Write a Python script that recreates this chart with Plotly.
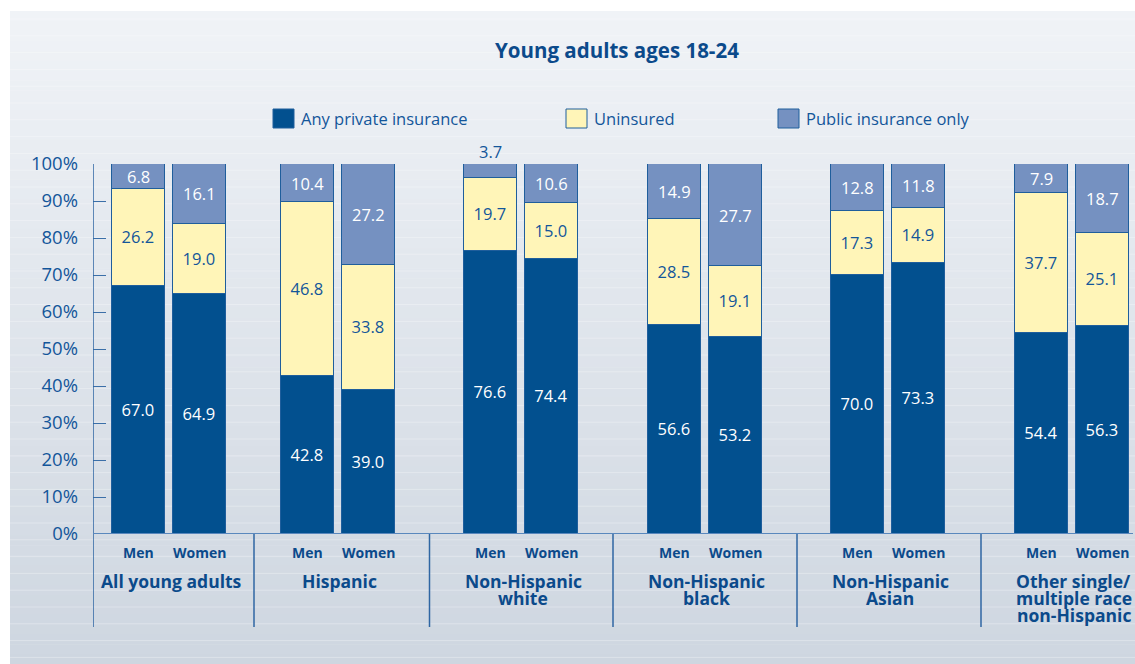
import plotly.graph_objects as go

W, H = 1135, 664

# ---- data -------------------------------------------------------------
groups = [
    "All young adults",
    "Hispanic",
    "Non-Hispanic\nwhite",
    "Non-Hispanic\nblack",
    "Non-Hispanic\nAsian",
    "Other single/\nmultiple race\nnon-Hispanic",
]
sexes = ["Men", "Women"]

private_men = [67.0, 42.8, 76.6, 56.6, 70.0, 54.4]
private_women = [64.9, 39.0, 74.4, 53.2, 73.3, 56.3]
uninsured_men = [26.2, 46.8, 19.7, 28.5, 17.3, 37.7]
uninsured_women = [19.0, 33.8, 15.0, 19.1, 14.9, 25.1]
public_men = [6.8, 10.4, 3.7, 14.9, 12.8, 7.9]
public_women = [16.1, 27.2, 10.6, 27.7, 11.8, 18.7]

y_ticks = [0, 10, 20, 30, 40, 50, 60, 70, 80, 90, 100]

series_names = ["Any private insurance", "Uninsured", "Public insurance only"]

# ---- styling ----------------------------------------------------------
C_PRIVATE = "#02508f"
C_UNINS = "#fff5b8"
C_PUBLIC = "#7591c1"
C_EDGE = "#1f5e9c"
C_TEXT = "#13569a"
C_TITLE = "#0b4a8b"
FONT = "Open Sans"
VALUE_SIZE = 16.5

# pixel layout of the plotting area
LEFT, RIGHT = 93, 1135
TOP, BOTTOM = 164, 534
LOWER = 627            # bottom of the category divider lines
PX_PER_PCT = (BOTTOM - TOP) / 100.0


def py(y_px):
    """pixel row -> paper coordinate"""
    return 1 - y_px / H


# group centres (x axis is measured in pixels)
first_centre, next_centre, step = 169, 337.5, 183.6
centres = [first_centre] + [next_centre + step * k for k in range(len(groups) - 1)]
half_gap = 30.5
bar_w = 53
dividers = [254, 429.5, 613, 797, 981]


def interleave(a, b):
    out = []
    for u, v in zip(a, b):
        out += [u, v]
    return out


xs = []
for c in centres:
    xs += [c - half_gap, c + half_gap]

private = interleave(private_men, private_women)
unins = interleave(uninsured_men, uninsured_women)
public = interleave(public_men, public_women)

fig = go.Figure()


def add_series(vals, name, fill, label_col=None):
    kw = {}
    if label_col:
        kw = dict(
            text=[f"{v:.1f}" for v in vals], textposition="inside",
            insidetextanchor="middle", textangle=0, constraintext="none",
            insidetextfont=dict(family=FONT, size=VALUE_SIZE, color=label_col),
        )
    fig.add_trace(go.Bar(
        x=xs, y=vals, width=bar_w, name=name,
        marker=dict(color=fill, line=dict(color=C_EDGE, width=1.3)),
        cliponaxis=False, hoverinfo="skip", showlegend=False, **kw,
    ))


add_series(private, series_names[0], C_PRIVATE, "white")
add_series(unins, series_names[1], C_UNINS, C_TEXT)
add_series(public, series_names[2], C_PUBLIC)

annotations = []

# labels for the top segment: centred inside, or above the bar when too thin
for x, p, u, v in zip(xs, private, unins, public):
    base = p + u
    if v * PX_PER_PCT >= 18:
        annotations.append(dict(
            text=f"{v:.1f}", xref="x", yref="y", x=x, y=base + v / 2,
            xanchor="center", yanchor="middle", showarrow=False,
            font=dict(family=FONT, size=VALUE_SIZE, color="white"),
        ))
    else:
        annotations.append(dict(
            text=f"{v:.1f}", xref="x", yref="y", x=x, y=base + v,
            xanchor="center", yanchor="bottom", showarrow=False, yshift=-1,
            font=dict(family=FONT, size=VALUE_SIZE, color=C_TEXT),
        ))

shapes = []

# background panel: vertical gradient with faint horizontal stripes
top_rgb = (0xF0, 0xF3, 0xF7)
bot_rgb = (0xCE, 0xD6, 0xE0)
y0_bg = 11
n_bands = 66
band_h = (H - y0_bg) / n_bands
for i in range(n_bands):
    t = (i + 0.5) / n_bands
    col = tuple(round(a + (b - a) * t) for a, b in zip(top_rgb, bot_rgb))
    shapes.append(dict(
        type="rect", xref="paper", yref="paper", layer="below",
        x0=10 / W, x1=1, y0=py(y0_bg + i * band_h), y1=py(y0_bg + (i + 1) * band_h + 0.6),
        fillcolor="rgb(%d,%d,%d)" % col, line=dict(width=0),
    ))
stripe_y = y0_bg + 8
while stripe_y < H:
    shapes.append(dict(
        type="line", xref="paper", yref="paper", layer="below",
        x0=10 / W, x1=1, y0=py(stripe_y), y1=py(stripe_y),
        line=dict(color="rgba(255,255,255,0.3)", width=1),
    ))
    stripe_y += 16.8

# y axis line (extended down through the category area)
shapes.append(dict(type="line", xref="x", yref="paper", x0=LEFT, x1=LEFT,
                   y0=py(TOP), y1=py(LOWER), line=dict(color="#2f66a3", width=1.5)))
# category dividers
for d in dividers:
    shapes.append(dict(type="line", xref="x", yref="paper", x0=d, x1=d,
                       y0=py(BOTTOM), y1=py(LOWER), line=dict(color="#2f66a3", width=1.5)))
# baseline
shapes.append(dict(type="line", xref="x", yref="y", x0=LEFT, x1=RIGHT - 2, y0=0, y1=0,
                   line=dict(color="#5a88bd", width=2), layer="above"))

# title
annotations.append(dict(
    text="<b>Young adults ages 18-24</b>", xref="paper", yref="paper",
    x=617 / W, y=py(50), xanchor="center", yanchor="middle", showarrow=False,
    font=dict(family=FONT, size=20.5, color=C_TITLE),
))

# legend
legend_boxes = [(273, C_PRIVATE), (566, C_UNINS), (778, C_PUBLIC)]
for (lx, col), name in zip(legend_boxes, series_names):
    shapes.append(dict(type="rect", xref="paper", yref="paper",
                       x0=lx / W, x1=(lx + 21) / W, y0=py(128), y1=py(109),
                       fillcolor=col, line=dict(color=C_EDGE, width=1)))
    annotations.append(dict(
        text=name, xref="paper", yref="paper", x=(lx + 26) / W, y=py(118.5),
        xanchor="left", yanchor="middle", showarrow=False,
        font=dict(family=FONT, size=16.5, color=C_TEXT),
    ))

# Men / Women labels
for x, s in zip(xs, sexes * len(groups)):
    annotations.append(dict(
        text=f"<b>{s}</b>", xref="x", yref="paper", x=x, y=py(552),
        xanchor="center", yanchor="middle", showarrow=False,
        font=dict(family=FONT, size=14, color=C_TITLE),
    ))

# group labels, one line at a time
for c, g in zip(centres, groups):
    for j, line in enumerate(g.split("\n")):
        annotations.append(dict(
            text=f"<b>{line}</b>", xref="x", yref="paper", x=c + 2, y=py(581 + 17 * j),
            xanchor="center", yanchor="middle", showarrow=False,
            font=dict(family=FONT, size=17.5, color=C_TITLE),
        ))

fig.update_layout(
    width=W, height=H,
    margin=dict(l=0, r=0, t=0, b=0, autoexpand=False),
    paper_bgcolor="white", plot_bgcolor="rgba(0,0,0,0)",
    barmode="stack", bargap=0,
    xaxis=dict(domain=[LEFT / W, RIGHT / W], range=[LEFT, RIGHT], visible=False,
               fixedrange=True, automargin=False),
    yaxis=dict(domain=[py(BOTTOM), py(TOP)], range=[0, 100],
               tickvals=y_ticks, ticktext=[f"{t}%" for t in y_ticks],
               ticks="inside", ticklen=13, tickwidth=1.3, tickcolor="#3b6fa8",
               tickfont=dict(family=FONT, size=18.5, color=C_TEXT),
               ticklabelstandoff=14, showgrid=False, zeroline=False,
               showline=False, fixedrange=True, automargin=False),
    shapes=shapes, annotations=annotations,
)

fig.write_html("out.html")
